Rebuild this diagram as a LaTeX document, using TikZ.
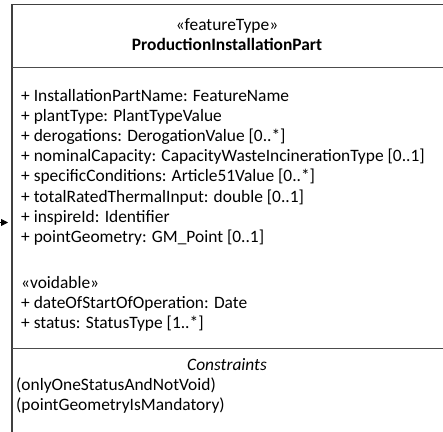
\documentclass[tikz,border=0pt]{standalone}
\usepackage{fontspec}
\setmainfont{Carlito}
\usetikzlibrary{arrows.meta}
\begin{document}
\begin{tikzpicture}[x=1pt,y=-1pt,
  boxline/.style={draw=black!75,line width=1.3pt},
  attr/.style={anchor=base west,inner sep=0pt,font=\fontsize{17.4}{20}\selectfont},
  ctr/.style={anchor=base,inner sep=0pt,font=\fontsize{17.4}{20}\selectfont}]
\useasboundingbox (0,0) rectangle (443,431);
% box outline
\coordinate (tl) at (12,4.5);
\coordinate (tr) at (444,4.5);
\coordinate (bl) at (12,432);
\coordinate (h1l) at (12,67);
\coordinate (h1r) at (444,67);
\coordinate (h2l) at (12,348);
\coordinate (h2r) at (444,348);
\draw[boxline] (tr) -- (tl) -- (bl);
\draw[draw=black!70,line width=1pt] (h1l) -- (h1r);
\draw[draw=black!70,line width=1pt] (h2l) -- (h2r);
% header
\node[ctr] (st) at (227,30.5) {«featureType»};
\node[ctr,font=\fontsize{17.4}{20}\selectfont\bfseries] (nm) at (227,50.5) {ProductionInstallationPart};
% attributes
\node[attr] (a1) at (21,101.5) {+ InstallationPartName: FeatureName};
\node[attr] (a2) at (21,121) {+ plantType: PlantTypeValue};
\node[attr] (a3) at (21,141) {+ derogations: DerogationValue [0..*]};
\node[attr] (a4) at (21,161) {+ nominalCapacity: CapacityWasteIncinerationType [0..1]};
\node[attr] (a5) at (21,181.5) {+ specificConditions: Article51Value [0..*]};
\node[attr] (a6) at (21,202) {+ totalRatedThermalInput: double [0..1]};
\node[attr] (a7) at (21,222) {+ inspireId: Identifier};
\node[attr] (a8) at (21,242) {+ pointGeometry: GM\_Point [0..1]};
\node[attr] (v0) at (21,288.5) {«voidable»};
\node[attr] (v1) at (21,308.5) {+ dateOfStartOfOperation: Date};
\node[attr] (v2) at (21,328.5) {+ status: StatusType [1..*]};
% constraints
\node[ctr,font=\fontsize{17.4}{20}\selectfont\itshape] (ch) at (227,370.5) {Constraints};
\node[attr] (c1) at (16,390.5) {(onlyOneStatusAndNotVoid)};
\node[attr] (c2) at (16,410.5) {(pointGeometryIsMandatory)};
% incoming arrow
\coordinate (ar0) at (0,222.5);
\coordinate (ar1) at (8,222.5);
\draw[-{Triangle[length=7pt,width=7pt]},line width=0.8pt] (ar0) -- (ar1);
\end{tikzpicture}
\end{document}
